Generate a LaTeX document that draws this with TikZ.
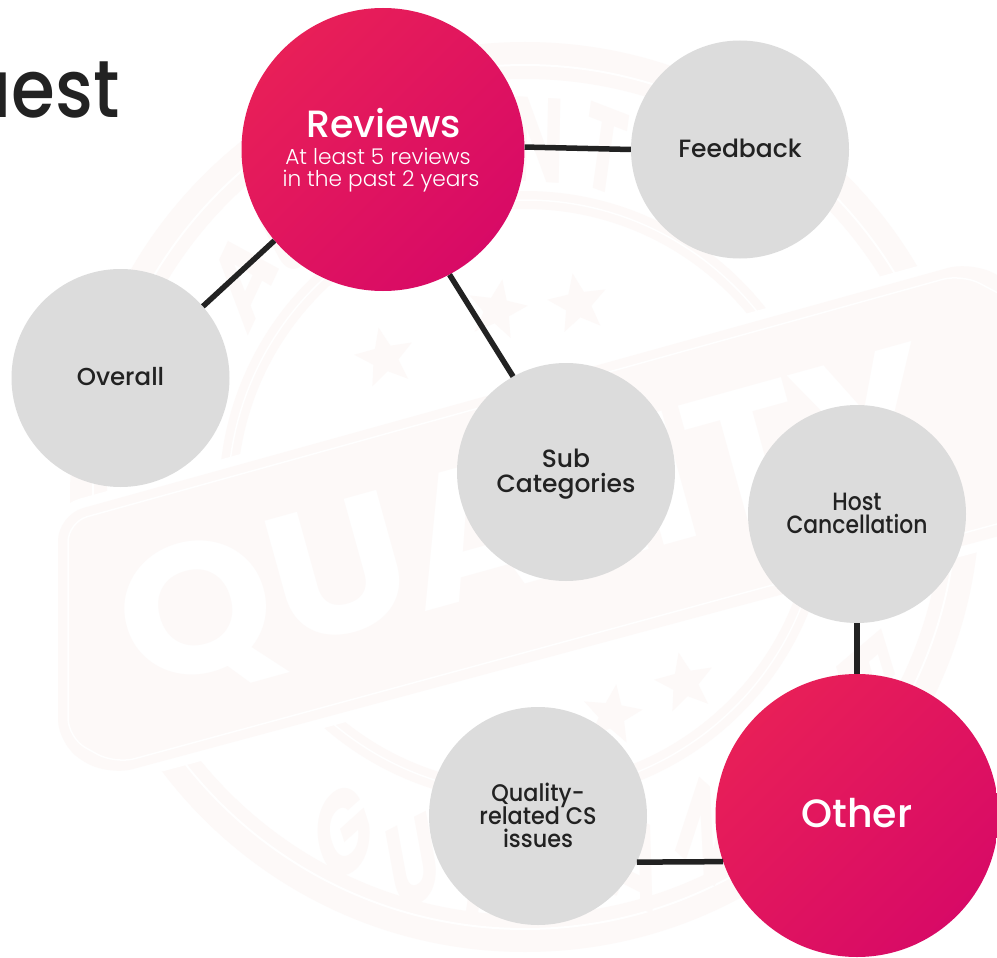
\documentclass[tikz,border=0pt]{standalone}
\usepackage{fontspec}
\usetikzlibrary{shapes.geometric}
\setmainfont{Poppins}
\newfontfamily\medf{Poppins Medium}
\newfontfamily\medn{Poppins Medium}[FakeStretch=0.875]
\newfontfamily\medm{Poppins Medium}[FakeStretch=0.93]
\newfontfamily\lightf{Poppins Light}
\newfontfamily\boldf{Poppins}[UprightFont={* Bold}]
\definecolor{ink}{HTML}{222222}
\definecolor{disc}{HTML}{DCDCDC}
\definecolor{pinka}{HTML}{E81F58}
\definecolor{pinkb}{HTML}{D80A66}
\definecolor{faint}{HTML}{FDF9F8}
\newcommand{\fs}[2]{\fontsize{#1}{#2}\selectfont\lineskiplimit=-100pt\lineskip=0pt\relax}
\tikzset{
  greydisc/.style={circle,fill=disc,draw=none,inner sep=0pt,minimum size=218pt},
  pinkdisc/.style={circle,draw=none,inner sep=0pt,minimum size=283pt,
    left color=pinka,right color=pinkb,shading angle=45},
  darktext/.style={text=ink,inner sep=0pt,align=center},
  lighttext/.style={text=white,inner sep=0pt,align=center},
  link/.style={draw=ink,line width=5.5pt},
  wmstar/.style={star,star points=5,star point ratio=2.3,fill=faint,draw=none,inner sep=0pt,minimum size=62pt},
  wmletter/.style={text=faint,inner sep=0pt,xscale=.6,font=\boldf\fs{120}{120}}
}
\begin{document}
\begin{tikzpicture}[x=1pt,y=-1pt]
\useasboundingbox (0,0) rectangle (997,958);
\fill[white] (0,0) rectangle (997,958);
% watermark stamp
\begin{scope}
\clip (0,0) rectangle (997,958);
\fill[faint,even odd rule] (525,497) circle[radius=455pt] (525,497) circle[radius=418pt];
\draw[white,line width=2pt] (525,497) circle[radius=432pt];
\fill[faint,even odd rule] (525,497) circle[radius=306pt] (525,497) circle[radius=288pt];
\draw[white,line width=1.5pt] (525,497) circle[radius=297pt];
\foreach \l/\a in {A/142,U/131,T/121,H/110,E/99,N/88,T/77,I/67,C/58}{
  \pgfmathsetmacro\px{525+357*cos(\a)}
  \pgfmathsetmacro\py{497-357*sin(\a)}
  \pgfmathsetmacro\ro{\a-90}
  \node[wmletter,rotate=\ro] (top\a) at (\px,\py) {\l};
}
\foreach \l/\a/\k in {G/-28.4/a,U/-17/b,A/-5.6/c,R/5.8/d,A/17/e,N/28.6/f,T/40/g,E/51/h,E/63/i}{
  \pgfmathsetmacro\px{525+382*sin(\a)}
  \pgfmathsetmacro\py{497+382*cos(\a)}
  \pgfmathsetmacro\ro{0-\a}
  \node[wmletter,rotate=\ro] (bot\k) at (\px,\py) {\l};
}
\foreach \n/\x/\y/\r in {a/385/358/12,b/497/310/-10,c/578/304/10,d/612/715/-8,e/685/683/12}{
  \node[wmstar,rotate=\r] (star\n) at (\x,\y) {};
}
\draw[white,line width=20pt,rounded corners=26pt] (58,515) -- (973,261) -- (1040,300) -- (1040,525) -- (107,776) -- (58,745) -- cycle;
\fill[faint,rounded corners=26pt] (58,515) -- (973,261) -- (1040,300) -- (1040,525) -- (107,776) -- (58,745) -- cycle;
\draw[white,line width=1.5pt,rounded corners=20pt] (68,522) -- (962,274) -- (1030,310) -- (1030,515) -- (115,764) -- (68,738) -- cycle;
\node[text=white,inner sep=0pt,rotate=15.5,xscale=1.065,font=\boldf\fs{185}{185}] (wordmark) at (529,526) {QUALITY};
% title
\node[anchor=base east,inner sep=0pt,text=ink,font=\medn\fs{81}{81}] (title) at (120,117.5) {Guest};
\end{scope}
% discs
\node[pinkdisc] (rev) at (383,149.5) {};
\node[greydisc] (fb) at (740,149.5) {};
\node[greydisc] (ov) at (120.5,378) {};
\node[greydisc] (sub) at (566,472) {};
\node[greydisc] (host) at (857,514) {};
\node[greydisc] (cs) at (538,816) {};
\node[pinkdisc] (oth) at (857,815.5) {};
% labels
\node[lighttext,anchor=base,font=\medf\fs{38}{38}] (revA) at (383.5,137) {Reviews};
\node[lighttext,anchor=base,font=\lightf\fs{21.7}{23}] (revB) at (378,164.5) {At least 5 reviews};
\node[lighttext,anchor=base,font=\lightf\fs{21.7}{23}] (revC) at (381,186.5) {in the past 2 years};
\node[darktext,font=\medf\fs{25}{26}] (fbT) at (740,148) {Feedback};
\node[darktext,font=\medf\fs{24.5}{26}] (ovT) at (120.5,377) {Overall};
\node[darktext,font=\medf\fs{25}{25}] (subT) at (566,474) {Sub\\Categories};
\node[darktext,font=\medn\fs{25}{23}] (hostT) at (857,513) {Host\\Cancellation};
\node[darktext,font=\medm\fs{24}{23}] (csT) at (538,815) {Quality-\\related CS\\issues};
\node[lighttext,font=\medf\fs{39.5}{38}] (othT) at (857,813.5) {Other};
% connectors
\draw[link] (rev.1) -- (fb.180);
\draw[link] (rev.220.4) -- (ov.41);
\draw[link] (rev.298.7) -- (sub.119.4);
\draw[link] (host.270) -- (oth.90);
\draw[link] (cs.335.6) -- (oth.199.2);
\end{tikzpicture}
\end{document}
